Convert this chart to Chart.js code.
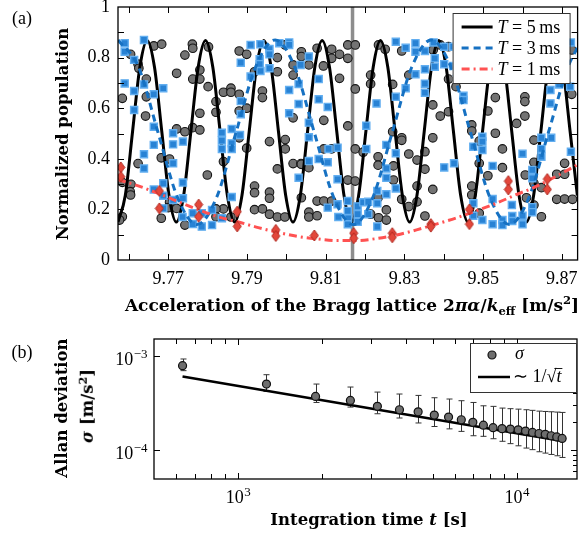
<!DOCTYPE html>
<html>
<head>
<meta charset="utf-8">
<script src="https://cdn.jsdelivr.net/npm/chart.js@4.4.1/dist/chart.umd.min.js"></script>
<style>
  body { margin: 0; background: #fff; }
  #wrap { position: relative; width: 584px; height: 537px; overflow: hidden; font-family: "Liberation Serif", serif; color: #000; }
  canvas { position: absolute; left: 0; }
  .lbl { position: absolute; white-space: nowrap; transform: translate(-50%, -50%); line-height: 1; }
  .rot { transform: translate(-50%, -50%) rotate(-90deg); }
  .b { font-family: "DejaVu Serif", serif; font-weight: bold; font-size: 16.5px; }
  sub, sup { font-size: 68%; line-height: 0; }
</style>
</head>
<body>
<div id="wrap">
  <canvas id="fringes" width="584" height="330" style="top:0"></canvas>
  <canvas id="allan" width="584" height="207" style="top:330px"></canvas>

  <div class="lbl" style="left:22px;top:18px;font-size:18px">(a)</div>
  <div class="lbl rot b" style="left:63px;top:134px">Normalized population</div>
  <div class="lbl b" style="left:352px;top:305px;font-size:17px">Acceleration of the Bragg lattice 2<i>πα</i>/<i>k</i><sub>eff</sub> [m/s<sup>2</sup>]</div>

  <div class="lbl" style="left:22px;top:352px;font-size:18px">(b)</div>
  <div class="lbl rot b" style="left:62px;top:408px">Allan deviation</div>
  <div class="lbl rot b" style="left:88px;top:406px"><i>σ</i> [m/s<sup>2</sup>]</div>
  <div class="lbl b" style="left:369px;top:520px">Integration time <i>t</i> [s]</div>
</div>

<script>
(() => {
  //! DATA

  // panel (a): measured populations, [acceleration m/s^2, population]
  const t5Points = [
    [9.7604,0.813],[9.7623,0.774],[9.7625,0.758],[9.7644,0.715],[9.7583,0.639],[9.7644,0.645],[9.7642,0.569],[9.7663,0.846],[9.7683,0.853],[9.7623,0.381],
    [9.7605,0.299],[9.7603,0.270],[9.7604,0.257],[9.7583,0.307],[9.7583,0.171],[9.7576,0.158],[9.7682,0.404],[9.7703,0.399],[9.7703,0.228],[9.7700,0.207],
    [9.7682,0.165],[9.7721,0.204],[9.7742,0.138],[9.7742,0.810],[9.7721,0.738],[9.7761,0.853],[9.7762,0.837],[9.7762,0.715],[9.7780,0.751],[9.7780,0.715],
    [9.7801,0.685],[9.7780,0.580],[9.7762,0.523],[9.7780,0.514],[9.7721,0.518],[9.7742,0.507],[9.7799,0.336],[9.7802,0.842],[9.7821,0.626],[9.7821,0.584],
    [9.7840,0.663],[9.7859,0.679],[9.7859,0.663],[9.7880,0.655],[9.7880,0.589],[9.7880,0.483],[9.7899,0.600],[9.7899,0.442],[9.7880,0.826],[9.7899,0.813],
    [9.7919,0.744],[9.7939,0.668],[9.7939,0.642],[9.7840,0.389],[9.7859,0.170],[9.7840,0.202],[9.7821,0.202],[9.7821,0.171],[9.7919,0.292],[9.7919,0.266],
    [9.7919,0.199],[9.7939,0.202],[9.7957,0.268],[9.7957,0.244],[9.7957,0.181],[9.7977,0.170],[9.7996,0.170],[9.7957,0.468],[9.7977,0.360],[9.7997,0.476],
    [9.7997,0.439],[9.8017,0.381],[9.8037,0.381],[9.8017,0.562],[9.8017,0.771],[9.8017,0.731],[9.7977,0.800],[9.7977,0.744],[9.7997,0.850],[9.8038,0.823],
    [9.8038,0.804],[9.8057,0.771],[9.8078,0.837],[9.8094,0.767],[9.8115,0.833],[9.8115,0.797],[9.8135,0.813],[9.8156,0.850],[9.8156,0.797],[9.8175,0.850],
    [9.8135,0.718],[9.8175,0.676],[9.8095,0.552],[9.8156,0.530],[9.8095,0.439],[9.8115,0.439],[9.8038,0.378],[9.8057,0.365],[9.8156,0.316],[9.8175,0.312],
    [9.8175,0.439],[9.8195,0.426],[9.8038,0.246],[9.8078,0.233],[9.8095,0.233],[9.8115,0.233],[9.8057,0.189],[9.8057,0.170],[9.8078,0.175],[9.8214,0.731],
    [9.8214,0.696],[9.8234,0.850],[9.8251,0.833],[9.8270,0.694],[9.8270,0.507],[9.8233,0.408],[9.8233,0.375],[9.8233,0.246],[9.8214,0.181],[9.8234,0.167],
    [9.8254,0.198],[9.8254,0.158],[9.8293,0.826],[9.8311,0.731],[9.8293,0.483],[9.8293,0.473],[9.8272,0.372],[9.8272,0.316],[9.8311,0.419],[9.8332,0.395],
    [9.8352,0.428],[9.8352,0.359],[9.8372,0.483],[9.8372,0.613],[9.8372,0.279],[9.8332,0.292],[9.8332,0.230],[9.8293,0.240],[9.8311,0.211],[9.8352,0.174],
    [9.8391,0.569],[9.8412,0.586],[9.8373,0.830],[9.8391,0.850],[9.8412,0.843],[9.8412,0.715],[9.8431,0.685],[9.8471,0.534],[9.8471,0.510],[9.8490,0.470],
    [9.8490,0.382],[9.8471,0.292],[9.8471,0.257],[9.8490,0.185],[9.8531,0.642],[9.8512,0.589],[9.8531,0.501],[9.8549,0.439],[9.8512,0.333],[9.8549,0.365],
    [9.8585,0.540],[9.8606,0.645],[9.8606,0.626],[9.8606,0.569],[9.8629,0.474],[9.8629,0.386],[9.8629,0.303],[9.8610,0.246],[9.8629,0.217],[9.8648,0.171],
    [9.8648,0.286],[9.8687,0.339],[9.8707,0.382],[9.8707,0.339],[9.8687,0.240],[9.8707,0.241],[9.8727,0.240],[9.8725,0.655],[9.8725,0.830],[9.8607,0.336]
  ];
  const t3Points = [
    [9.7589,0.857],[9.7589,0.823],[9.7638,0.870],[9.7613,0.791],[9.7589,0.698],[9.7613,0.668],[9.7638,0.694],[9.7663,0.655],[9.7687,0.679],[9.7613,0.593],
    [9.7663,0.527],[9.7663,0.455],[9.7638,0.418],[9.7638,0.362],[9.7712,0.501],[9.7712,0.457],[9.7737,0.468],[9.7712,0.382],[9.7687,0.303],[9.7737,0.306],
    [9.7663,0.279],[9.7687,0.254],[9.7712,0.237],[9.7737,0.244],[9.7687,0.204],[9.7736,0.170],[9.7762,0.185],[9.7762,0.142],[9.7785,0.185],[9.7785,0.132],
    [9.7909,0.850],[9.7934,0.853],[9.7957,0.834],[9.7957,0.813],[9.7982,0.857],[9.8007,0.860],[9.8007,0.850],[9.7932,0.794],[9.7932,0.774],[9.7934,0.747],
    [9.7957,0.758],[9.7884,0.780],[9.7909,0.725],[9.7884,0.628],[9.7884,0.576],[9.7882,0.494],[9.7861,0.518],[9.7836,0.503],[9.7836,0.472],[9.7836,0.439],
    [9.7861,0.461],[9.7861,0.439],[9.7861,0.249],[9.7836,0.165],[9.7811,0.138],[9.7811,0.198],[9.8007,0.672],[9.8031,0.696],[9.8031,0.617],[9.8007,0.580],
    [9.8031,0.325],[9.8057,0.804],[9.8036,0.771],[9.8082,0.715],[9.8082,0.635],[9.8105,0.605],[9.8057,0.543],[9.8057,0.485],[9.8107,0.439],[9.8130,0.444],
    [9.8082,0.399],[9.8105,0.386],[9.8057,0.391],[9.8130,0.319],[9.8156,0.233],[9.8105,0.207],[9.8130,0.220],[9.8132,0.170],[9.8156,0.194],[9.8157,0.165],
    [9.8156,0.141],[9.8181,0.151],[9.8181,0.181],[9.8181,0.212],[9.8195,0.228],[9.8208,0.230],[9.8208,0.181],[9.8231,0.224],[9.8231,0.132],[9.8231,0.273],
    [9.8254,0.260],[9.8254,0.362],[9.8254,0.325],[9.8254,0.455],[9.8203,0.531],[9.8203,0.439],[9.8229,0.619],[9.8278,0.863],[9.8303,0.839],[9.8328,0.857],
    [9.8328,0.823],[9.8352,0.826],[9.8374,0.860],[9.8377,0.797],[9.8377,0.764],[9.8401,0.843],[9.8401,0.774],[9.8424,0.843],[9.8424,0.767],[9.8328,0.734],
    [9.8352,0.754],[9.8352,0.697],[9.8352,0.661],[9.8303,0.679],[9.8278,0.645],[9.8278,0.422],[9.8278,0.283],[9.8401,0.366],[9.8426,0.382],[9.8450,0.649],
    [9.8450,0.632],[9.8475,0.448],[9.8498,0.487],[9.8498,0.468],[9.8498,0.435],[9.8475,0.224],[9.8475,0.175],[9.8498,0.158],[9.8723,0.860],[9.8693,0.694],
    [9.8721,0.685],[9.8671,0.672],[9.8671,0.619],[9.8673,0.483],[9.8648,0.483],[9.8648,0.439],[9.8723,0.428],[9.8648,0.408],[9.8625,0.356],[9.8625,0.323],
    [9.8600,0.420],[9.8524,0.372],[9.8524,0.241],[9.8573,0.217],[9.8625,0.209],[9.8625,0.189],[9.8600,0.175],[9.8574,0.174],[9.8574,0.154],[9.8549,0.158],
    [9.8549,0.138],[9.8524,0.141],[9.8600,0.141]
  ];
  const t1Points = [
    [9.7579,0.366],[9.7579,0.329],[9.7677,0.273],[9.7677,0.204],[9.7777,0.219],[9.7777,0.171],[9.7875,0.191],[9.7875,0.133],
    [9.7973,0.119],[9.7973,0.095],[9.8071,0.097],[9.8171,0.106],[9.8171,0.086],[9.8269,0.106],[9.8269,0.090],[9.8367,0.142],
    [9.8367,0.132],[9.8465,0.200],[9.8465,0.142],[9.8564,0.312],[9.8564,0.279],[9.8663,0.320],[9.8663,0.279]
  ];

  // panel (a): fitted fringes
  const t5FitX = [
    9.75720,9.75905,9.76091,9.76276,9.76461,9.76647,9.76832,9.77017,9.77202,9.77388,9.77573,9.77758,9.77944,9.78129,9.78314,9.78500,
    9.78685,9.78870,9.79055,9.79241,9.79426,9.79611,9.79797,9.79982,9.80167,9.80353,9.80538,9.80723,9.80908,9.81094,9.81279,9.81464,
    9.81650,9.81835,9.82020,9.82206,9.82391,9.82576,9.82761,9.82947,9.83132,9.83317,9.83503,9.83688,9.83873,9.84059,9.84244,9.84429,
    9.84614,9.84800,9.84985,9.85170,9.85356,9.85541,9.85726,9.85912,9.86097,9.86282,9.86467,9.86653,9.86838,9.87023,9.87209,9.87394
  ];
  const t5FitY = [
    0.150,0.255,0.509,0.763,0.868,0.763,0.509,0.255, 0.150,0.255,0.509,0.763,0.868,0.763,0.509,0.255,
    0.150,0.255,0.509,0.763,0.868,0.763,0.509,0.255, 0.150,0.255,0.509,0.763,0.868,0.763,0.509,0.255,
    0.150,0.255,0.509,0.763,0.868,0.763,0.509,0.255, 0.150,0.255,0.509,0.763,0.868,0.763,0.509,0.255,
    0.150,0.255,0.509,0.763,0.868,0.763,0.509,0.255, 0.150,0.255,0.509,0.763,0.868,0.763,0.509,0.255
  ];
  const t3FitX = [
    9.75720,9.76240,9.76736,9.77233,9.77729,9.78225,9.78721,9.79217,9.79714,9.80210,9.80706,9.81202,9.81698,
    9.82195,9.82691,9.83187,9.83683,9.84179,9.84676,9.85172,9.85668,9.86164,9.86660,9.87157,9.87400
  ];
  const t3FitY = [
    0.870,0.763,0.505,0.247,0.140,0.247,0.505,0.763,0.870,0.763,0.505,0.247,0.140,
    0.247,0.505,0.763,0.870,0.763,0.505,0.247,0.140,0.247,0.505,0.763,0.841
  ];
  const t1FitX = [
    9.75719,9.76271,9.76774,9.77276,9.77779,9.78281,9.78784,9.79286,9.79789,9.80291,9.80794,9.81296,
    9.81799,9.82302,9.82804,9.83307,9.83809,9.84312,9.84814,9.85317,9.85819,9.86322,9.86824,9.87402
  ];
  const t1FitY = [
    0.318,0.291,0.261,0.229,0.198,0.170,0.150,0.128,0.109,0.093,0.083,0.077,
    0.077,0.085,0.099,0.119,0.142,0.166,0.194,0.223,0.257,0.289,0.328,0.377
  ];
  const centralFringe = [9.8168];

  const seriesLabels = ["5\u2009ms", "3\u2009ms", "1\u2009ms"];
  const accTicks = [9.76, 9.77, 9.78, 9.79, 9.80, 9.81, 9.82, 9.83, 9.84, 9.85, 9.86, 9.87];
  const accLabelTicks = [9.77, 9.79, 9.81, 9.83, 9.85, 9.87];
  const popTicks = [0.1, 0.2, 0.3, 0.4, 0.5, 0.6, 0.7, 0.8, 0.9];
  const popLabelTicks = [0, 0.2, 0.4, 0.6, 0.8, 1];
  const popLabels = ["0", "0.2", "0.4", "0.6", "0.8", "1"];

  // panel (b): Allan deviation
  const allanT = [633,1266,1899,2532,3165,3798,4431,5064,5697,6330,6963,7596,8229,8862,9495,10128,10761,11394,12027,12660,13293,13926,14559];
  const allanSigma = [7.84e-4,5.02e-4,3.72e-4,3.37e-4,2.92e-4,2.69e-4,2.56e-4,2.36e-4,2.25e-4,2.11e-4,1.98e-4,1.85e-4,1.74e-4,1.70e-4,1.68e-4,1.65e-4,1.60e-4,1.55e-4,1.51e-4,1.48e-4,1.43e-4,1.39e-4,1.34e-4];
  const allanHigh = [9.23e-4,6.30e-4,5.02e-4,4.67e-4,4.13e-4,3.94e-4,3.81e-4,3.60e-4,3.49e-4,3.35e-4,3.21e-4,2.96e-4,2.92e-4,2.80e-4,2.76e-4,2.73e-4,2.69e-4,2.65e-4,2.60e-4,2.58e-4,2.56e-4,2.54e-4,2.52e-4];
  const allanLow = [6.95e-4,4.20e-4,3.21e-4,2.87e-4,2.44e-4,2.20e-4,1.95e-4,1.79e-4,1.69e-4,1.59e-4,1.43e-4,1.41e-4,1.33e-4,1.25e-4,1.18e-4,1.12e-4,1.06e-4,1.02e-4,9.69e-5,9.38e-5,9.08e-5,8.79e-5,8.44e-5];
  const fitT = [633, 14559];
  const fitSigma = [6.04e-4, 1.26e-4];

  const timeTicks = [1000, 10000];
  const timeExp = ["3", "4"];
  const timeMinor = [600, 700, 800, 900, 2000, 3000, 4000, 5000, 6000, 7000, 8000, 9000];
  const sigmaTicks = [1e-4, 1e-3];
  const sigmaExp = ["\u22124", "\u22123"];
  const sigmaMinor = [6e-5, 7e-5, 8e-5, 9e-5, 2e-4, 3e-4, 4e-4, 5e-4, 6e-4, 7e-4, 8e-4, 9e-4];

  //! HELPERS

  const SERIF = '"Liberation Serif", serif';
  Chart.defaults.font.family = SERIF;
  Chart.defaults.font.size = 18;
  Chart.defaults.color = "#000";

  const pairs = (list) => list.map(([x, y]) => ({ x, y }));
  const zip = (xs, ys) => xs.map((x, i) => ({ x, y: ys[i] }));

  // red diamond marker, a bit taller than wide
  function diamond(w, h, fill, stroke) {
    const c = document.createElement("canvas");
    c.width = w + 2;
    c.height = h + 2;
    const g = c.getContext("2d");
    g.beginPath();
    g.moveTo(c.width / 2, 1);
    g.lineTo(c.width - 1, c.height / 2);
    g.lineTo(c.width / 2, c.height - 1);
    g.lineTo(1, c.height / 2);
    g.closePath();
    g.fillStyle = fill;
    g.fill();
    g.strokeStyle = stroke;
    g.lineWidth = 1;
    g.stroke();
    return c;
  }

  // box frame + inward ticks on all four sides
  const frameTicks = {
    id: "frameTicks",
    afterDraw(chart, args, opts) {
      const { ctx, chartArea: a, scales } = chart;
      ctx.save();
      ctx.strokeStyle = "#000";
      ctx.lineWidth = 1;
      ctx.beginPath();
      const vx = (v, len) => {
        const px = Math.round(scales.x.getPixelForValue(v)) + 0.5;
        ctx.moveTo(px, a.bottom); ctx.lineTo(px, a.bottom - len);
        ctx.moveTo(px, a.top); ctx.lineTo(px, a.top + len);
      };
      const vy = (v, len, left, right) => {
        const py = Math.round(scales.y.getPixelForValue(v)) + 0.5;
        if (left) { ctx.moveTo(a.left, py); ctx.lineTo(a.left + len, py); }
        if (right) { ctx.moveTo(a.right, py); ctx.lineTo(a.right - len, py); }
      };
      (opts.x || []).forEach((v) => vx(v, 6));
      (opts.xMinor || []).forEach((v) => vx(v, 5));
      (opts.y || []).forEach((v) => vy(v, 6, true, true));
      (opts.yMinorRight || []).forEach((v) => vy(v, 4, false, true));
      ctx.stroke();
      ctx.lineWidth = 1.3;
      ctx.strokeRect(a.left, a.top, a.right - a.left, a.bottom - a.top);
      ctx.restore();
    }
  };

  // "10" with a raised exponent, for the log axes of panel (b)
  function power(ctx, exp, x, y, align) {
    ctx.font = "18px " + SERIF;
    const bw = ctx.measureText("10").width;
    ctx.font = "13px " + SERIF;
    const ew = ctx.measureText(exp).width;
    const left = align === "right" ? x - bw - ew : x - (bw + ew) / 2;
    ctx.textAlign = "left";
    ctx.textBaseline = "alphabetic";
    ctx.font = "18px " + SERIF;
    ctx.fillText("10", left, y);
    ctx.font = "13px " + SERIF;
    ctx.fillText(exp, left + bw + 0.5, y - 7);
  }

  const powerLabels = {
    id: "powerLabels",
    afterDraw(chart) {
      const { ctx, chartArea: a, scales } = chart;
      ctx.save();
      ctx.fillStyle = "#000";
      sigmaTicks.forEach((v, i) => power(ctx, sigmaExp[i], a.left - 7, scales.y.getPixelForValue(v) + 9, "right"));
      timeTicks.forEach((v, i) => power(ctx, timeExp[i], scales.x.getPixelForValue(v), a.bottom + 24, "center"));
      ctx.restore();
    }
  };

  function legendBox(ctx, x, y, w, h) {
    ctx.fillStyle = "#fff";
    ctx.fillRect(x, y, w, h);
    ctx.strokeStyle = "#333";
    ctx.lineWidth = 1;
    ctx.strokeRect(x + 0.5, y + 0.5, w, h);
  }

  // legend of panel (a): the three fitted fringes
  const fringeLegend = {
    id: "fringeLegend",
    afterDraw(chart) {
      const { ctx, chartArea: a } = chart;
      const x0 = a.right - 125, y0 = a.top + 6;
      ctx.save();
      legendBox(ctx, x0, y0, 117, 70);
      const fits = chart.data.datasets.filter((d) => d.fitRow !== undefined);
      fits.forEach((d) => {
        const y = y0 + 14 + d.fitRow * 21;
        ctx.beginPath();
        ctx.strokeStyle = d.borderColor;
        ctx.lineWidth = d.borderWidth;
        ctx.setLineDash(d.borderDash || []);
        ctx.moveTo(x0 + 9, y);
        ctx.lineTo(x0 + 40, y);
        ctx.stroke();
        ctx.setLineDash([]);
        ctx.fillStyle = "#000";
        ctx.textBaseline = "middle";
        ctx.font = "italic 18px " + SERIF;
        ctx.fillText("T", x0 + 45, y + 1);
        const tw = ctx.measureText("T").width;
        ctx.font = "18px " + SERIF;
        ctx.fillText(" = " + seriesLabels[d.fitRow], x0 + 45 + tw, y + 1);
      });
      ctx.restore();
    }
  };

  // legend of panel (b)
  const allanLegend = {
    id: "allanLegend",
    afterDraw(chart) {
      const { ctx, chartArea: a } = chart;
      const x0 = a.right - 107, y0 = a.top + 4;
      ctx.save();
      legendBox(ctx, x0, y0, 106, 49);
      const y1 = y0 + 12, y2 = y0 + 34;
      ctx.beginPath();
      ctx.arc(x0 + 22, y1, 4, 0, Math.PI * 2);
      ctx.fillStyle = "#6e6e6e";
      ctx.fill();
      ctx.strokeStyle = "#111";
      ctx.lineWidth = 1.2;
      ctx.stroke();
      ctx.fillStyle = "#000";
      ctx.textBaseline = "middle";
      ctx.font = "italic 18px " + SERIF;
      ctx.fillText("\u03C3", x0 + 45, y1 - 1);
      ctx.beginPath();
      ctx.strokeStyle = "#000";
      ctx.lineWidth = 2.5;
      ctx.moveTo(x0 + 8, y2);
      ctx.lineTo(x0 + 40, y2);
      ctx.stroke();
      ctx.font = "18px " + SERIF;
      const head = "\u223C 1/\u221A";
      ctx.fillText(head, x0 + 43, y2);
      const hw = ctx.measureText(head).width;
      ctx.font = "italic 18px " + SERIF;
      ctx.fillText("t", x0 + 43 + hw, y2);
      const tw = ctx.measureText("t").width;
      ctx.beginPath();
      ctx.lineWidth = 0.9;
      ctx.moveTo(x0 + 41 + hw, y2 - 8.5);
      ctx.lineTo(x0 + 44 + hw + tw, y2 - 8.5);
      ctx.stroke();
      ctx.restore();
    }
  };

  // vertical error bars with caps, under the markers
  const errorBars = {
    id: "errorBars",
    beforeDatasetsDraw(chart) {
      const { ctx, scales } = chart;
      ctx.save();
      ctx.strokeStyle = "#333";
      ctx.lineWidth = 1;
      ctx.beginPath();
      allanT.forEach((t, i) => {
        const px = Math.round(scales.x.getPixelForValue(t)) + 0.5;
        const top = scales.y.getPixelForValue(allanHigh[i]);
        const bot = scales.y.getPixelForValue(allanLow[i]);
        ctx.moveTo(px, top); ctx.lineTo(px, bot);
        ctx.moveTo(px - 3, top); ctx.lineTo(px + 3, top);
        ctx.moveTo(px - 3, bot); ctx.lineTo(px + 3, bot);
      });
      ctx.stroke();
      ctx.restore();
    }
  };

  const hiddenGrid = { display: false, drawTicks: false };

  //! PANEL (a)

  new Chart(document.getElementById("fringes"), {
    type: "scatter",
    data: {
      datasets: [
        {
          data: [{ x: centralFringe[0], y: 0 }, { x: centralFringe[0], y: 1 }],
          showLine: true, pointRadius: 0, borderColor: "#8d8d8d", borderWidth: 3.5, order: 9
        },
        {
          data: pairs(t5Points), pointStyle: "circle", pointRadius: 4.3,
          backgroundColor: "#737373", borderColor: "#161616", borderWidth: 1.1, order: 8
        },
        {
          data: zip(t5FitX, t5FitY), showLine: true, pointRadius: 0, fitRow: 0,
          borderColor: "#000", borderWidth: 3, cubicInterpolationMode: "monotone", order: 7
        },
        {
          data: pairs(t3Points), pointStyle: "rect", pointRadius: 5,
          backgroundColor: "#2882d4", borderColor: "#62aef0", borderWidth: 1.4, order: 6
        },
        {
          data: zip(t3FitX, t3FitY), showLine: true, pointRadius: 0, fitRow: 1,
          borderColor: "#1671c2", borderWidth: 3, borderDash: [7, 5], cubicInterpolationMode: "monotone", order: 5
        },
        {
          data: zip(t1FitX, t1FitY), showLine: true, pointRadius: 0, fitRow: 2,
          borderColor: "#ff5252", borderWidth: 3, borderDash: [8, 4, 2, 4], cubicInterpolationMode: "monotone", order: 4
        },
        {
          data: pairs(t1Points), pointStyle: diamond(8, 11, "#e3473b", "#b02a20"), order: 3
        }
      ]
    },
    options: {
      responsive: false,
      animation: false,
      events: [],
      clip: 0,
      layout: { padding: { top: 7, right: 1, left: 0, bottom: 0 } },
      plugins: {
        legend: { display: false },
        tooltip: { enabled: false },
        frameTicks: { x: accTicks, y: popTicks }
      },
      scales: {
        x: {
          type: "linear", min: 9.7572, max: 9.874,
          grid: hiddenGrid, border: { display: false },
          ticks: { padding: 8, maxRotation: 0, autoSkip: false, callback: (v) => String(v) },
          afterBuildTicks: (axis) => { axis.ticks = accLabelTicks.map((value) => ({ value })); },
          afterFit: (axis) => { axis.height = 70; axis.paddingLeft = 0; axis.paddingRight = 0; }
        },
        y: {
          type: "linear", min: 0, max: 1,
          grid: hiddenGrid, border: { display: false },
          ticks: { padding: 8, autoSkip: false, callback: (v, i) => popLabels[i] },
          afterBuildTicks: (axis) => { axis.ticks = popLabelTicks.map((value) => ({ value })); },
          afterFit: (axis) => { axis.width = 118; axis.paddingTop = 0; axis.paddingBottom = 0; }
        }
      }
    },
    plugins: [frameTicks, fringeLegend]
  });

  //! PANEL (b)

  new Chart(document.getElementById("allan"), {
    type: "scatter",
    data: {
      datasets: [
        {
          data: zip(fitT, fitSigma), showLine: true, pointRadius: 0,
          borderColor: "#000", borderWidth: 2.6, order: 2
        },
        {
          data: zip(allanT, allanSigma), pointStyle: "circle", pointRadius: 4,
          backgroundColor: "#6e6e6e", borderColor: "#111", borderWidth: 1.2, order: 1
        }
      ]
    },
    options: {
      responsive: false,
      animation: false,
      events: [],
      clip: 0,
      layout: { padding: { top: 9, right: 7, left: 0, bottom: 0 } },
      plugins: {
        legend: { display: false },
        tooltip: { enabled: false },
        frameTicks: { x: timeTicks, xMinor: timeMinor, y: sigmaTicks, yMinorRight: sigmaMinor }
      },
      scales: {
        x: {
          type: "logarithmic", min: 500, max: 16460,
          grid: hiddenGrid, border: { display: false },
          ticks: { display: false },
          afterBuildTicks: (axis) => { axis.ticks = timeTicks.map((value) => ({ value })); },
          afterFit: (axis) => { axis.height = 58; axis.paddingLeft = 0; axis.paddingRight = 0; }
        },
        y: {
          type: "logarithmic", min: 5e-5, max: 1.5e-3,
          grid: hiddenGrid, border: { display: false },
          ticks: { display: false },
          afterBuildTicks: (axis) => { axis.ticks = sigmaTicks.map((value) => ({ value })); },
          afterFit: (axis) => { axis.width = 154; axis.paddingTop = 0; axis.paddingBottom = 0; }
        }
      }
    },
    plugins: [errorBars, frameTicks, powerLabels, allanLegend]
  });
})();
</script>
</body>
</html>
